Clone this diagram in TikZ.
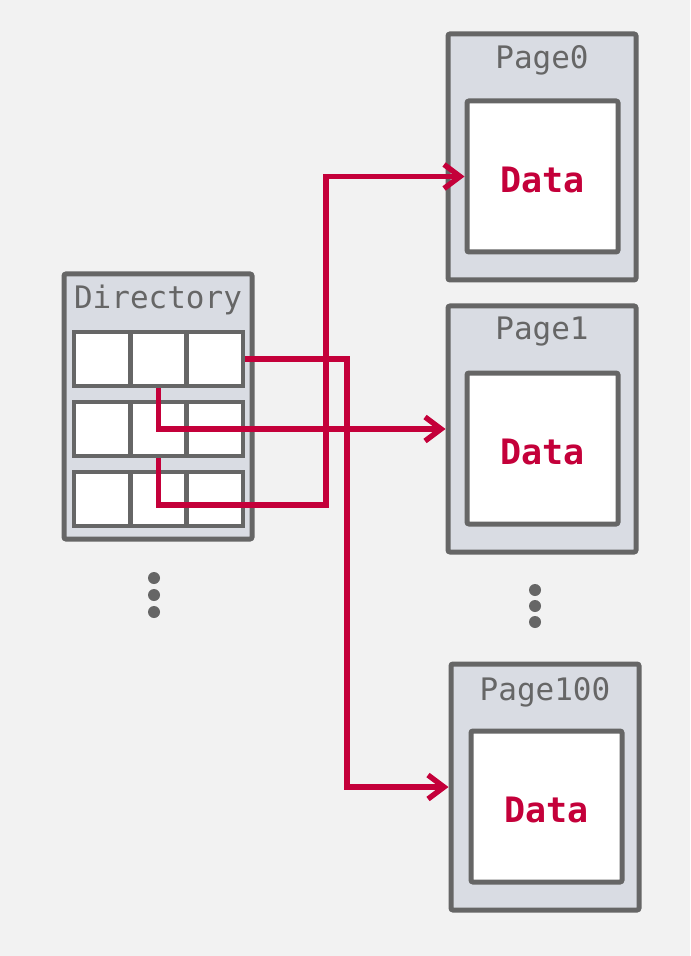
\documentclass[tikz,border=0pt]{standalone}
\usepackage{fontspec}
\setmonofont{DejaVu Sans Mono}
\usetikzlibrary{arrows.meta}
\definecolor{bggray}{HTML}{F2F2F2}
\definecolor{boxgray}{HTML}{D9DCE3}
\definecolor{edgegray}{HTML}{666666}
\definecolor{ptrred}{HTML}{C4003A}

\begin{document}
\begin{tikzpicture}[x=0.5pt,y=-0.5pt,
  outer/.style={draw=edgegray, fill=boxgray, line width=2.5pt, inner sep=0pt,
    minimum width=94pt, minimum height=123pt, rounded corners=1pt},
  inner/.style={draw=edgegray, fill=white, line width=2.5pt, inner sep=0pt,
    minimum width=75.5pt, minimum height=75.5pt, rounded corners=1pt,
    text height=15.8pt, text depth=0pt, text=ptrred,
    font=\ttfamily\bfseries\fontsize{17.5}{20}\selectfont},
  cell/.style={draw=edgegray, fill=white, line width=2.3pt, inner sep=0pt,
    minimum width=28.2pt, minimum height=27pt},
  title/.style={text=edgegray, inner sep=0pt, font=\ttfamily\fontsize{15.5}{18}\selectfont},
  ptr/.style={draw=ptrred, line width=2.7pt, -{Straight Barb[length=8pt,width=12pt]}},
  vdot/.style={fill=edgegray}]
\useasboundingbox (0,0) rectangle (690,956);
\fill[bggray] (0,0) rectangle (690,956);

% directory
\node[outer, minimum height=132.5pt] (Dir) at (158,406.5) {};
\node[title] (DirT) at (158,300) {Directory};
\foreach \r/\y in {1/359,2/429,3/499}
  \foreach \c/\x in {1/102.2,2/158.5,3/214.8}
    \node[cell] (c\r\c) at (\x,\y) {};

% pages
\node[outer] (P0) at (542,157) {};
\node[title] (P0T) at (542,60) {Page0};
\node[inner] (D0) at (542.5,176.5) {Data};

\node[outer] (P1) at (542,429) {};
\node[title] (P1T) at (542,332) {Page1};
\node[inner] (D1) at (542.5,448.5) {Data};

\node[outer] (P100) at (545,787) {};
\node[title] (P100T) at (545,692) {Page100};
\node[inner] (D100) at (546.5,806.5) {Data};

% dots
\foreach \y in {578,595,612} \fill[vdot] (154,\y) circle[radius=3pt];
\foreach \y in {590,606,622} \fill[vdot] (535,\y) circle[radius=3pt];

% pointers
\coordinate (k0) at (326,505);
\coordinate (k1) at (347,359);
\draw[ptr] (c13.east) -- (k1) |- (P100.west);
\draw[ptr] (c12.south) |- (P1.west);
\draw[ptr] (c22.south) |- (k0) |- (D0.west);
\end{tikzpicture}
\end{document}
